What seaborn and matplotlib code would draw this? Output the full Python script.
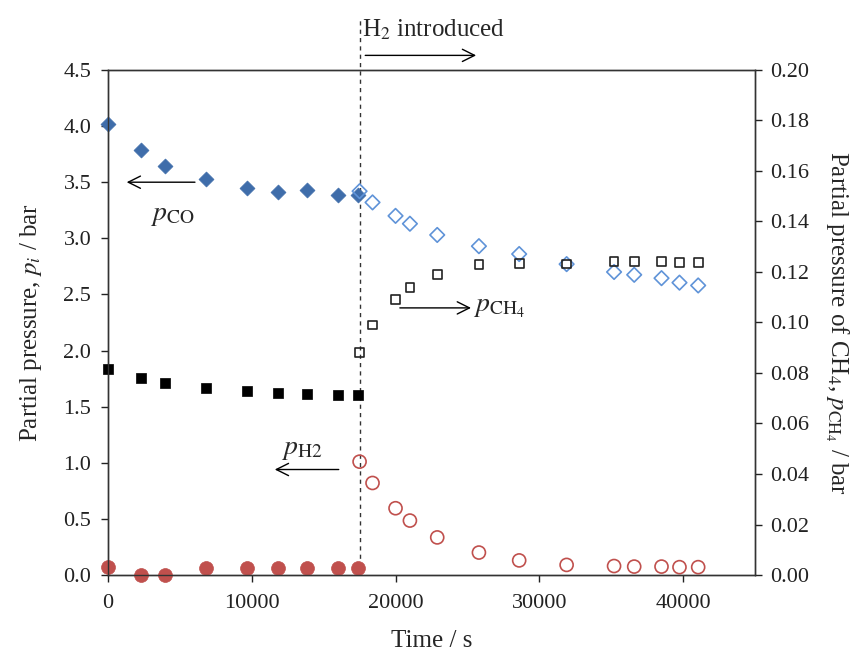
import numpy as np
import pandas as pd
import matplotlib
matplotlib.use("Agg")
import matplotlib.pyplot as plt
import seaborn as sns

# Time points (s) before and after hydrogen is introduced
t_before = [0, 2300, 4000, 6850, 9650, 11800, 13850, 16000, 17400]
t_after = [17500, 18400, 20000, 21000, 22900, 25800, 28600, 31900,
           35200, 36600, 38500, 39750, 41050]

# Partial pressures (bar), left axis
p_co_before = [4.02, 3.785, 3.64, 3.53, 3.45, 3.41, 3.43, 3.39, 3.385]
p_co_after = [3.42, 3.32, 3.20, 3.13, 3.03, 2.93, 2.86, 2.77,
              2.70, 2.675, 2.645, 2.605, 2.58]
p_sq_before = [1.835, 1.755, 1.715, 1.665, 1.64, 1.62, 1.615, 1.60, 1.60]
p_h2_before = [0.075, 0.0, 0.0, 0.06, 0.06, 0.06, 0.06, 0.06, 0.06]
p_h2_after = [1.01, 0.82, 0.595, 0.485, 0.335, 0.20, 0.13, 0.09,
              0.08, 0.075, 0.075, 0.07, 0.07]

# Partial pressure of CH4 (bar), right axis
p_ch4_after = [0.088, 0.099, 0.109, 0.114, 0.119, 0.123, 0.1234, 0.1232,
               0.124, 0.124, 0.124, 0.1237, 0.1237]

t_h2 = 17500

sns.set_style("ticks")
plt.rcParams["font.family"] = ["Liberation Serif", "DejaVu Serif"]
plt.rcParams["mathtext.fontset"] = "stix"

fig = plt.figure(figsize=(8.55, 6.57), dpi=100)
ax = fig.add_axes([0.1263, 0.1248, 0.7567, 0.7687])
ax2 = ax.twinx()

blue_dark = "#3F6DAA"
blue_light = "#5F93D8"
red = "#C0504D"

before = pd.DataFrame({"t": t_before, "co": p_co_before,
                       "sq": p_sq_before, "h2": p_h2_before})
after = pd.DataFrame({"t": t_after, "co": p_co_after,
                      "h2": p_h2_after, "ch4": p_ch4_after})

common = dict(zorder=3, legend=False, clip_on=False)
sns.scatterplot(data=before, x="t", y="co", ax=ax, marker="D", s=58,
                color=blue_dark, edgecolor=blue_dark, linewidth=0.5, **common)
sns.scatterplot(data=before, x="t", y="sq", ax=ax, marker="s", s=62,
                color="black", edgecolor="black", linewidth=0.5, **common)
sns.scatterplot(data=before, x="t", y="h2", ax=ax, marker="o", s=100,
                color=red, edgecolor=red, linewidth=0.5, **common)
sns.scatterplot(data=after, x="t", y="co", ax=ax, marker="D", s=55,
                facecolor="none", edgecolor=blue_light, linewidth=1.2,
                **common)
sns.scatterplot(data=after, x="t", y="h2", ax=ax, marker="o", s=88,
                facecolor="none", edgecolor=red, linewidth=1.2, **common)
sns.scatterplot(data=after, x="t", y="ch4", ax=ax2, marker="s", s=40,
                facecolor="none", edgecolor="#222222", linewidth=1.2,
                **common)

ax.set_xlim(0, 45000)
ax.set_ylim(0, 4.5)
ax2.set_ylim(0, 0.20)
ax.set_xticks([0, 10000, 20000, 30000, 40000])
ax.set_yticks(np.arange(0, 4.51, 0.5))
ax.set_yticklabels([f"{v:.1f}" for v in np.arange(0, 4.51, 0.5)])
ax2.set_yticks(np.arange(0, 0.201, 0.02))
ax2.set_yticklabels([f"{v:.2f}" for v in np.arange(0, 0.201, 0.02)])

for a in (ax, ax2):
    a.tick_params(direction="out", length=5, width=1, labelsize=16,
                  colors="#222222")
    for sp in a.spines.values():
        sp.set_color("#333333")
        sp.set_linewidth(1.0)
ax.tick_params(axis="x", pad=9)
ax.tick_params(axis="y", pad=7)
ax2.tick_params(axis="y", pad=6)

ax.set_xlabel("Time / s", fontsize=18, labelpad=12)
ax.set_ylabel("Partial pressure, $p_i$ / bar", fontsize=18, labelpad=14)
ax2.set_ylabel(r"Partial pressure of CH$_4$, $p_{\mathrm{CH_4}}$ / bar",
               fontsize=18, rotation=270, labelpad=30)

# Moment hydrogen is introduced
ax.axvline(t_h2, ymin=0, ymax=1.10, color="#333333", linestyle=(0, (3, 3)),
           linewidth=1.0, clip_on=False, zorder=2)
ax.annotate("", xy=(25800, 4.63), xytext=(17700, 4.63),
            xycoords="data", annotation_clip=False,
            arrowprops=dict(arrowstyle="->", color="black", lw=1.0,
                            mutation_scale=22))
ax.text(17700, 4.86, "H$_2$ introduced", fontsize=18, ha="left",
        va="center", clip_on=False)

# Series labels with arrows pointing to their axes
arrow = dict(arrowstyle="->", color="black", lw=1.0, mutation_scale=22,
             shrinkA=0, shrinkB=0)
ax.annotate("", xy=(1300, 3.50), xytext=(6050, 3.50), arrowprops=arrow)
ax.text(4500, 3.20, r"$p_{\mathrm{CO}}$", fontsize=20, ha="center",
        va="center")
ax.annotate("", xy=(25250, 2.38), xytext=(20300, 2.38), arrowprops=arrow)
ax.text(25400, 2.38, r"$p_{\mathrm{CH_4}}$", fontsize=20, ha="left",
        va="center")
ax.annotate("", xy=(11600, 0.94), xytext=(16050, 0.94), arrowprops=arrow)
ax.text(13500, 1.12, r"$p_{\mathrm{H2}}$", fontsize=20, ha="center",
        va="center")

fig.savefig("out.png", dpi=100)
